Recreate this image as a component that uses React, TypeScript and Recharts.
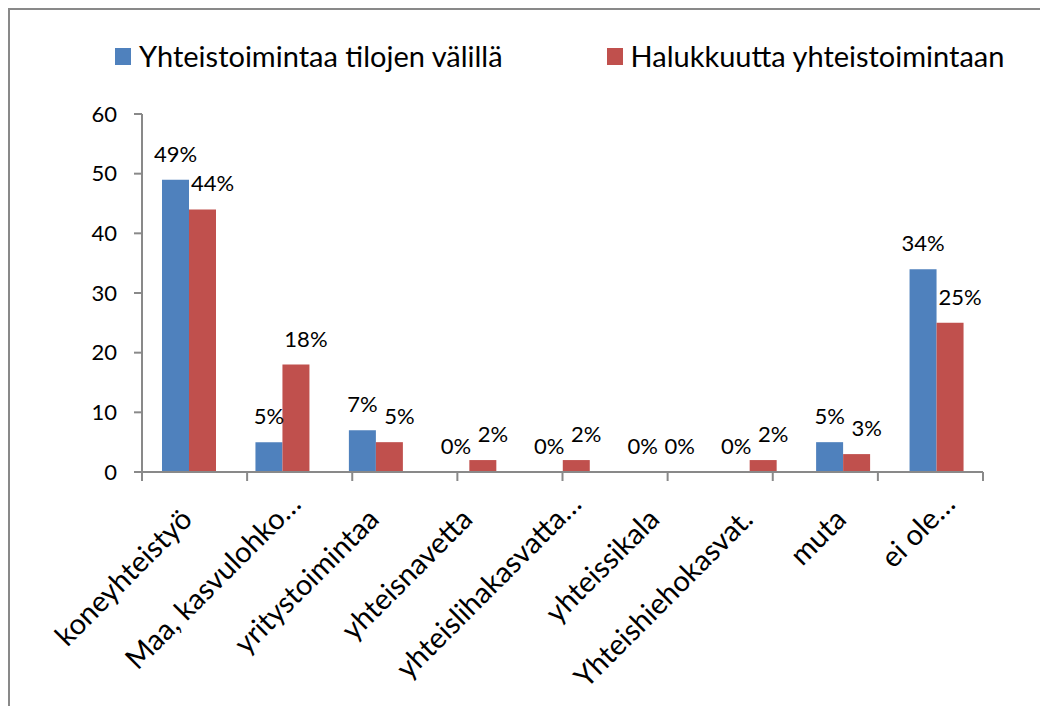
/** Grouped bar chart: farm co-operation today vs. willingness to co-operate,
 * Excel-style look with rotated category labels and % value labels. */

import { Bar, BarChart, LabelList, Legend, XAxis, YAxis } from "recharts";

const categories = [
  "koneyhteistyö",
  "Maa, kasvulohko…",
  "yritystoimintaa",
  "yhteisnavetta",
  "yhteislihakasvatta…",
  "yhteissikala",
  "Yhteishiehokasvat.",
  "muta",
  "ei ole…",
];
const cooperation = [49, 5, 7, 0, 0, 0, 0, 5, 34];
const willingness = [44, 18, 5, 2, 2, 0, 2, 3, 25];
const yTicks = [0, 10, 20, 30, 40, 50, 60];
const boundaryTicks = [0, 1, 2, 3, 4, 5, 6, 7, 8, 9];

const SERIES_A = "Yhteistoimintaa tilojen välillä";
const SERIES_B = "Halukkuutta yhteistoimintaan";

const FONT = "Lato, 'DejaVu Sans', sans-serif";
const AXIS = "#898989";
const BLUE = "#4F81BD";
const RED = "#C0504D";

const data = categories.map((name, i) => ({
  name,
  a: cooperation[i],
  b: willingness[i],
}));

// Excel lets a truncation ellipsis hang past the tick, so it is drawn after the anchor.
function CategoryTick({ x, y, payload }: { x?: number; y?: number; payload?: { value: string } }) {
  const cx = Number(x) - 2;
  const cy = Number(y) + 30;
  const label = String(payload?.value ?? "");
  const cut = label.endsWith("…");
  const main = cut ? label.slice(0, -1) : label;
  const common = {
    x: cx,
    y: cy,
    dy: "0.35em",
    transform: `rotate(-45, ${cx}, ${cy})`,
    fontFamily: FONT,
    fontSize: 29,
    fill: "#000",
  };
  return (
    <g>
      <text {...common} textAnchor="end">
        {main}
      </text>
      {cut && (
        <text {...common} textAnchor="start">
          …
        </text>
      )}
    </g>
  );
}

const valueLabel = (dx: number) => (props: any) => {
  const { x, y, width, value } = props;
  return (
    <text
      x={Number(x) + Number(width) / 2 + dx}
      y={Number(y) - 18}
      textAnchor="middle"
      fontFamily={FONT}
      fontSize={22}
      fill="#000"
    >
      {`${value}%`}
    </text>
  );
};

function LegendContent({ payload }: { payload?: Array<{ value: string; color: string; dataKey?: string }> }) {
  const items = [...(payload ?? [])].sort((p, q) => String(p.dataKey).localeCompare(String(q.dataKey)));
  return (
    <div style={{ display: "flex", alignItems: "center", fontFamily: FONT, fontSize: 29, lineHeight: "34px" }}>
      {items.map((entry, i) => (
        <div key={entry.value} style={{ display: "flex", alignItems: "center", marginLeft: i ? 104 : 0 }}>
          <span style={{ display: "inline-block", width: 16, height: 17, background: entry.color, marginRight: 8 }} />
          <span>{entry.value}</span>
        </div>
      ))}
    </div>
  );
}

export default function App() {
  return (
    <div
      style={{
        width: 1036,
        height: 696,
        borderTop: `2px solid ${AXIS}`,
        borderLeft: `2px solid ${AXIS}`,
        background: "#fff",
      }}
    >
      <BarChart
        width={1036}
        height={696}
        data={data}
        margin={{ top: 70, right: 63, bottom: 22, left: 52 }}
        barCategoryGap="21.4%"
        barGap={0}
      >
        <Legend
          verticalAlign="top"
          align="left"
          content={<LegendContent />}
          wrapperStyle={{ top: 29, left: 105, width: "auto" }}
        />
        <XAxis
          xAxisId="z-labels"
          dataKey="name"
          interval={0}
          axisLine={false}
          tickLine={false}
          tickSize={0}
          tickMargin={0}
          height={200}
          tick={<CategoryTick />}
        />
        <XAxis
          xAxisId="a-grid"
          type="number"
          domain={[0, 9]}
          ticks={boundaryTicks}
          tickFormatter={() => ""}
          tickSize={9}
          height={12}
          stroke={AXIS}
          axisLine={{ stroke: AXIS, strokeWidth: 2 }}
          tickLine={{ stroke: AXIS, strokeWidth: 2 }}
        />
        <YAxis
          domain={[0, 60]}
          ticks={yTicks}
          width={80}
          tickSize={8}
          tickMargin={17}
          axisLine={{ stroke: AXIS, strokeWidth: 2 }}
          tickLine={{ stroke: AXIS, strokeWidth: 2 }}
          tick={{ fill: "#000", fontSize: 22, fontFamily: FONT }}
        />
        <Bar xAxisId="z-labels" dataKey="a" name={SERIES_A} fill={BLUE} minPointSize={0.001} isAnimationActive={false}>
          <LabelList dataKey="a" content={valueLabel(0)} />
        </Bar>
        <Bar xAxisId="z-labels" dataKey="b" name={SERIES_B} fill={RED} minPointSize={0.001} isAnimationActive={false}>
          <LabelList dataKey="b" content={valueLabel(10)} />
        </Bar>
      </BarChart>
    </div>
  );
}
